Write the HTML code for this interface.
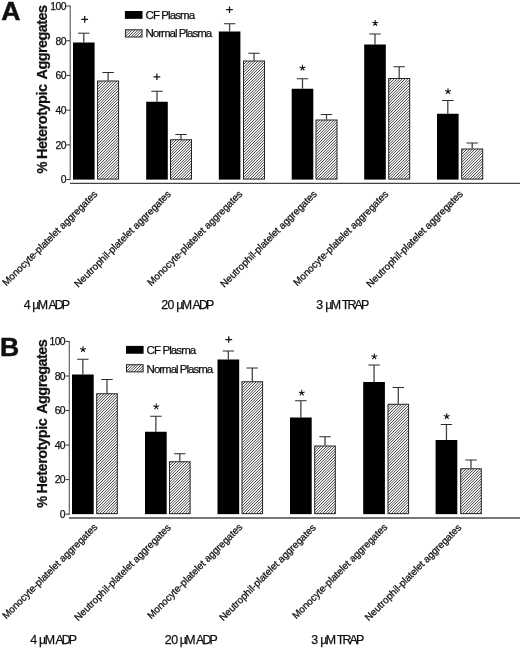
<!DOCTYPE html>
<html><head><meta charset="utf-8"><title>Figure</title>
<style>
html,body{margin:0;padding:0;background:#fff;}
body{width:520px;height:649px;overflow:hidden;font-family:"Liberation Sans",sans-serif;}
svg{display:block;font-family:"Liberation Sans",sans-serif;fill:#111;will-change:transform;-webkit-font-smoothing:antialiased;}
text{stroke:#111;stroke-width:0.25px;}
</style></head><body>
<svg width="520" height="649" viewBox="0 0 520 649">
<rect width="520" height="649" fill="#fff"/>
<!-- Panel A -->
<line x1="70.2" y1="5.55" x2="70.2" y2="180.1" stroke="#555" stroke-width="1.1"/>
<line x1="69.9" y1="183.4" x2="520" y2="183.4" stroke="#444" stroke-width="1.1"/>
<line x1="66.4" y1="179.60" x2="70.2" y2="179.60" stroke="#333" stroke-width="1"/>
<text x="65.9" y="183.45" text-anchor="end" font-size="10.4" letter-spacing="-0.6">0</text>
<line x1="66.4" y1="144.89" x2="70.2" y2="144.89" stroke="#333" stroke-width="1"/>
<text x="65.9" y="148.74" text-anchor="end" font-size="10.4" letter-spacing="-0.6">20</text>
<line x1="66.4" y1="110.18" x2="70.2" y2="110.18" stroke="#333" stroke-width="1"/>
<text x="65.9" y="114.03" text-anchor="end" font-size="10.4" letter-spacing="-0.6">40</text>
<line x1="66.4" y1="75.47" x2="70.2" y2="75.47" stroke="#333" stroke-width="1"/>
<text x="65.9" y="79.32" text-anchor="end" font-size="10.4" letter-spacing="-0.6">60</text>
<line x1="66.4" y1="40.76" x2="70.2" y2="40.76" stroke="#333" stroke-width="1"/>
<text x="65.9" y="44.61" text-anchor="end" font-size="10.4" letter-spacing="-0.6">80</text>
<line x1="66.4" y1="6.05" x2="70.2" y2="6.05" stroke="#333" stroke-width="1"/>
<text x="65.9" y="9.90" text-anchor="end" font-size="10.4" letter-spacing="-0.6">100</text>
<text transform="translate(47.1,173.40) rotate(-90)" font-size="14.5" font-weight="bold" letter-spacing="-0.2" textLength="11.7" lengthAdjust="spacingAndGlyphs">%</text>
<text transform="translate(47.1,159.10) rotate(-90)" font-size="14.5" font-weight="bold" letter-spacing="-0.45">Heterotypic</text>
<text transform="translate(47.1,79.40) rotate(-90)" font-size="14.5" font-weight="bold" letter-spacing="-0.58">Aggregates</text>
<text x="1.3" y="20.1" font-size="26.6" font-weight="bold" style="stroke-width:0.5px">A</text>
<rect x="124.9" y="11.0" width="17.6" height="7.85" fill="#000"/>
<rect x="125.4" y="29.8" width="16.6" height="7.2" fill="none" stroke="#222" stroke-width="1"/>
<text x="145.5" y="18.9" font-size="11.5" letter-spacing="-0.9">CF Plasma</text>
<text x="145.5" y="37.2" font-size="11.5" letter-spacing="-1.0">Normal Plasma</text>
<line x1="83.80" y1="33.2" x2="83.80" y2="42.5" stroke="#444" stroke-width="1.3"/>
<line x1="78.10" y1="33.2" x2="89.50" y2="33.2" stroke="#2a2a2a" stroke-width="1"/>
<rect x="73" y="42.5" width="21.6" height="137.10" fill="#000"/>
<line x1="108.10" y1="72.5" x2="108.10" y2="80.5" stroke="#444" stroke-width="1.3"/>
<line x1="102.40" y1="72.5" x2="113.80" y2="72.5" stroke="#2a2a2a" stroke-width="1"/>
<rect x="97.6" y="81.0" width="21" height="98.10" fill="none" stroke="#222" stroke-width="1"/>
<path d="M81.3 19.4H88.10000000000001M84.7 16.099999999999998V22.7" stroke="#111" stroke-width="1.25" fill="none"/>
<line x1="157.00" y1="91.25" x2="157.00" y2="101.75" stroke="#444" stroke-width="1.3"/>
<line x1="151.30" y1="91.25" x2="162.70" y2="91.25" stroke="#2a2a2a" stroke-width="1"/>
<rect x="146.2" y="101.75" width="21.6" height="77.85" fill="#000"/>
<line x1="181.00" y1="134.5" x2="181.00" y2="139.25" stroke="#444" stroke-width="1.3"/>
<line x1="175.30" y1="134.5" x2="186.70" y2="134.5" stroke="#2a2a2a" stroke-width="1"/>
<rect x="170.5" y="139.75" width="21" height="39.35" fill="none" stroke="#222" stroke-width="1"/>
<path d="M153.5 76.8H160.3M156.9 73.5V80.1" stroke="#111" stroke-width="1.25" fill="none"/>
<line x1="229.60" y1="23.75" x2="229.60" y2="31.5" stroke="#444" stroke-width="1.3"/>
<line x1="223.90" y1="23.75" x2="235.30" y2="23.75" stroke="#2a2a2a" stroke-width="1"/>
<rect x="218.8" y="31.5" width="21.6" height="148.10" fill="#000"/>
<line x1="254.00" y1="53.25" x2="254.00" y2="60.5" stroke="#444" stroke-width="1.3"/>
<line x1="248.30" y1="53.25" x2="259.70" y2="53.25" stroke="#2a2a2a" stroke-width="1"/>
<rect x="243.5" y="61.0" width="21" height="118.10" fill="none" stroke="#222" stroke-width="1"/>
<path d="M226.1 9.7H232.9M229.5 6.3999999999999995V13.0" stroke="#111" stroke-width="1.25" fill="none"/>
<line x1="302.50" y1="78.75" x2="302.50" y2="88.75" stroke="#444" stroke-width="1.3"/>
<line x1="296.80" y1="78.75" x2="308.20" y2="78.75" stroke="#2a2a2a" stroke-width="1"/>
<rect x="291.7" y="88.75" width="21.6" height="90.85" fill="#000"/>
<line x1="326.50" y1="114.5" x2="326.50" y2="119.5" stroke="#444" stroke-width="1.3"/>
<line x1="320.80" y1="114.5" x2="332.20" y2="114.5" stroke="#2a2a2a" stroke-width="1"/>
<rect x="316.0" y="120.0" width="21" height="59.10" fill="none" stroke="#222" stroke-width="1"/>
<path d="M302.50 67.90L302.50 64.80M302.50 67.90L305.45 66.94M302.50 67.90L304.32 70.41M302.50 67.90L300.68 70.41M302.50 67.90L299.55 66.94" stroke="#111" stroke-width="1.05" fill="none"/>
<line x1="375.00" y1="34" x2="375.00" y2="44.5" stroke="#444" stroke-width="1.3"/>
<line x1="369.30" y1="34" x2="380.70" y2="34" stroke="#2a2a2a" stroke-width="1"/>
<rect x="364.2" y="44.5" width="21.6" height="135.10" fill="#000"/>
<line x1="399.20" y1="66.75" x2="399.20" y2="78" stroke="#444" stroke-width="1.3"/>
<line x1="393.50" y1="66.75" x2="404.90" y2="66.75" stroke="#2a2a2a" stroke-width="1"/>
<rect x="388.7" y="78.5" width="21" height="100.60" fill="none" stroke="#222" stroke-width="1"/>
<path d="M375.20 23.10L375.20 20.00M375.20 23.10L378.15 22.14M375.20 23.10L377.02 25.61M375.20 23.10L373.38 25.61M375.20 23.10L372.25 22.14" stroke="#111" stroke-width="1.05" fill="none"/>
<line x1="447.80" y1="100.5" x2="447.80" y2="113.75" stroke="#444" stroke-width="1.3"/>
<line x1="442.10" y1="100.5" x2="453.50" y2="100.5" stroke="#2a2a2a" stroke-width="1"/>
<rect x="437" y="113.75" width="21.6" height="65.85" fill="#000"/>
<line x1="472.20" y1="143" x2="472.20" y2="148.5" stroke="#444" stroke-width="1.3"/>
<line x1="466.50" y1="143" x2="477.90" y2="143" stroke="#2a2a2a" stroke-width="1"/>
<rect x="461.7" y="149.0" width="21" height="30.10" fill="none" stroke="#222" stroke-width="1"/>
<path d="M448.00 91.40L448.00 88.30M448.00 91.40L450.95 90.44M448.00 91.40L449.82 93.91M448.00 91.40L446.18 93.91M448.00 91.40L445.05 90.44" stroke="#111" stroke-width="1.05" fill="none"/>
<text transform="translate(6.2,286.5) rotate(-45)" font-size="10" letter-spacing="-0.07" stroke="#111" stroke-width="0.2">Monocyte-platelet aggregates</text>
<text transform="translate(78.2,288) rotate(-45)" font-size="10" letter-spacing="-0.07" stroke="#111" stroke-width="0.2">Neutrophil-platelet aggregates</text>
<text transform="translate(151.2,286.5) rotate(-45)" font-size="10" letter-spacing="-0.07" stroke="#111" stroke-width="0.2">Monocyte-platelet aggregates</text>
<text transform="translate(224.2,288) rotate(-45)" font-size="10" letter-spacing="-0.07" stroke="#111" stroke-width="0.2">Neutrophil-platelet aggregates</text>
<text transform="translate(297.2,286.5) rotate(-45)" font-size="10" letter-spacing="-0.07" stroke="#111" stroke-width="0.2">Monocyte-platelet aggregates</text>
<text transform="translate(370.2,288) rotate(-45)" font-size="10" letter-spacing="-0.07" stroke="#111" stroke-width="0.2">Neutrophil-platelet aggregates</text>
<text x="23.70" y="309.3" font-size="12.4" letter-spacing="0">4</text>
<text x="32.30" y="309.3" font-size="12.4" letter-spacing="-1.6">µM</text>
<text x="48.40" y="309.3" font-size="12.4" letter-spacing="-1.9">ADP</text>
<text x="161.20" y="309.3" font-size="12.4" letter-spacing="-0.5">20</text>
<text x="176.30" y="309.3" font-size="12.4" letter-spacing="-1.6">µM</text>
<text x="192.60" y="309.3" font-size="12.4" letter-spacing="-1.9">ADP</text>
<text x="316.30" y="309.3" font-size="12.4" letter-spacing="0">3</text>
<text x="325.30" y="309.3" font-size="12.4" letter-spacing="-1.6">µM</text>
<text x="341.80" y="309.3" font-size="12.4" letter-spacing="-1.9">TRAP</text>
<!-- Panel B -->
<line x1="69.3" y1="341.0" x2="69.3" y2="514.65" stroke="#555" stroke-width="1.1"/>
<line x1="69.0" y1="518" x2="520" y2="518" stroke="#777" stroke-width="1.8"/>
<line x1="65.5" y1="514.15" x2="69.3" y2="514.15" stroke="#333" stroke-width="1"/>
<text x="65.0" y="518.00" text-anchor="end" font-size="10.4" letter-spacing="-0.6">0</text>
<line x1="65.5" y1="479.62" x2="69.3" y2="479.62" stroke="#333" stroke-width="1"/>
<text x="65.0" y="483.47" text-anchor="end" font-size="10.4" letter-spacing="-0.6">20</text>
<line x1="65.5" y1="445.09" x2="69.3" y2="445.09" stroke="#333" stroke-width="1"/>
<text x="65.0" y="448.94" text-anchor="end" font-size="10.4" letter-spacing="-0.6">40</text>
<line x1="65.5" y1="410.56" x2="69.3" y2="410.56" stroke="#333" stroke-width="1"/>
<text x="65.0" y="414.41" text-anchor="end" font-size="10.4" letter-spacing="-0.6">60</text>
<line x1="65.5" y1="376.03" x2="69.3" y2="376.03" stroke="#333" stroke-width="1"/>
<text x="65.0" y="379.88" text-anchor="end" font-size="10.4" letter-spacing="-0.6">80</text>
<line x1="65.5" y1="341.50" x2="69.3" y2="341.50" stroke="#333" stroke-width="1"/>
<text x="65.0" y="345.35" text-anchor="end" font-size="10.4" letter-spacing="-0.6">100</text>
<text transform="translate(46.6,507.80) rotate(-90)" font-size="14.5" font-weight="bold" letter-spacing="-0.2" textLength="11.7" lengthAdjust="spacingAndGlyphs">%</text>
<text transform="translate(46.6,493.50) rotate(-90)" font-size="14.5" font-weight="bold" letter-spacing="-0.45">Heterotypic</text>
<text transform="translate(46.6,413.80) rotate(-90)" font-size="14.5" font-weight="bold" letter-spacing="-0.58">Aggregates</text>
<text x="-0.1" y="356.2" font-size="26.6" font-weight="bold" style="stroke-width:0.5px">B</text>
<rect x="126.0" y="345.9" width="17.6" height="7.85" fill="#000"/>
<rect x="126.5" y="364.7" width="16.6" height="7.2" fill="none" stroke="#222" stroke-width="1"/>
<text x="146.6" y="354.0" font-size="11.5" letter-spacing="-0.9">CF Plasma</text>
<text x="146.6" y="372.6" font-size="11.5" letter-spacing="-1.0">Normal Plasma</text>
<line x1="82.85" y1="359.25" x2="82.85" y2="374.5" stroke="#444" stroke-width="1.3"/>
<line x1="77.15" y1="359.25" x2="88.55" y2="359.25" stroke="#2a2a2a" stroke-width="1"/>
<rect x="72" y="374.5" width="21.7" height="139.65" fill="#000"/>
<line x1="107.00" y1="379.5" x2="107.00" y2="393.25" stroke="#444" stroke-width="1.3"/>
<line x1="101.30" y1="379.5" x2="112.70" y2="379.5" stroke="#2a2a2a" stroke-width="1"/>
<rect x="96.7" y="393.75" width="20.6" height="119.90" fill="none" stroke="#222" stroke-width="1"/>
<path d="M83.00 349.40L83.00 346.30M83.00 349.40L85.95 348.44M83.00 349.40L84.82 351.91M83.00 349.40L81.18 351.91M83.00 349.40L80.05 348.44" stroke="#111" stroke-width="1.05" fill="none"/>
<line x1="155.85" y1="416.25" x2="155.85" y2="431.75" stroke="#444" stroke-width="1.3"/>
<line x1="150.15" y1="416.25" x2="161.55" y2="416.25" stroke="#2a2a2a" stroke-width="1"/>
<rect x="145" y="431.75" width="21.7" height="82.40" fill="#000"/>
<line x1="179.80" y1="453.75" x2="179.80" y2="461.25" stroke="#444" stroke-width="1.3"/>
<line x1="174.10" y1="453.75" x2="185.50" y2="453.75" stroke="#2a2a2a" stroke-width="1"/>
<rect x="169.5" y="461.75" width="20.6" height="51.90" fill="none" stroke="#222" stroke-width="1"/>
<path d="M156.25 406.70L156.25 403.60M156.25 406.70L159.20 405.74M156.25 406.70L158.07 409.21M156.25 406.70L154.43 409.21M156.25 406.70L153.30 405.74" stroke="#111" stroke-width="1.05" fill="none"/>
<line x1="228.35" y1="351" x2="228.35" y2="359.5" stroke="#444" stroke-width="1.3"/>
<line x1="222.65" y1="351" x2="234.05" y2="351" stroke="#2a2a2a" stroke-width="1"/>
<rect x="217.5" y="359.5" width="21.7" height="154.65" fill="#000"/>
<line x1="252.30" y1="368" x2="252.30" y2="381.25" stroke="#444" stroke-width="1.3"/>
<line x1="246.60" y1="368" x2="258.00" y2="368" stroke="#2a2a2a" stroke-width="1"/>
<rect x="242.0" y="381.75" width="20.6" height="131.90" fill="none" stroke="#222" stroke-width="1"/>
<path d="M225.35 339.5H232.15M228.75 336.2V342.8" stroke="#111" stroke-width="1.25" fill="none"/>
<line x1="300.85" y1="400.75" x2="300.85" y2="417.5" stroke="#444" stroke-width="1.3"/>
<line x1="295.15" y1="400.75" x2="306.55" y2="400.75" stroke="#2a2a2a" stroke-width="1"/>
<rect x="290" y="417.5" width="21.7" height="96.65" fill="#000"/>
<line x1="325.00" y1="436.75" x2="325.00" y2="445.5" stroke="#444" stroke-width="1.3"/>
<line x1="319.30" y1="436.75" x2="330.70" y2="436.75" stroke="#2a2a2a" stroke-width="1"/>
<rect x="314.7" y="446.0" width="20.6" height="67.65" fill="none" stroke="#222" stroke-width="1"/>
<path d="M301.75 392.90L301.75 389.80M301.75 392.90L304.70 391.94M301.75 392.90L303.57 395.41M301.75 392.90L299.93 395.41M301.75 392.90L298.80 391.94" stroke="#111" stroke-width="1.05" fill="none"/>
<line x1="374.05" y1="365" x2="374.05" y2="382" stroke="#444" stroke-width="1.3"/>
<line x1="368.35" y1="365" x2="379.75" y2="365" stroke="#2a2a2a" stroke-width="1"/>
<rect x="363.2" y="382" width="21.7" height="132.15" fill="#000"/>
<line x1="398.30" y1="387.5" x2="398.30" y2="403.75" stroke="#444" stroke-width="1.3"/>
<line x1="392.60" y1="387.5" x2="404.00" y2="387.5" stroke="#2a2a2a" stroke-width="1"/>
<rect x="388.0" y="404.25" width="20.6" height="109.40" fill="none" stroke="#222" stroke-width="1"/>
<path d="M374.25 356.60L374.25 353.50M374.25 356.60L377.20 355.64M374.25 356.60L376.07 359.11M374.25 356.60L372.43 359.11M374.25 356.60L371.30 355.64" stroke="#111" stroke-width="1.05" fill="none"/>
<line x1="446.45" y1="424.5" x2="446.45" y2="440" stroke="#444" stroke-width="1.3"/>
<line x1="440.75" y1="424.5" x2="452.15" y2="424.5" stroke="#2a2a2a" stroke-width="1"/>
<rect x="435.6" y="440" width="21.7" height="74.15" fill="#000"/>
<line x1="471.00" y1="460" x2="471.00" y2="468.25" stroke="#444" stroke-width="1.3"/>
<line x1="465.30" y1="460" x2="476.70" y2="460" stroke="#2a2a2a" stroke-width="1"/>
<rect x="460.7" y="468.75" width="20.6" height="44.90" fill="none" stroke="#222" stroke-width="1"/>
<path d="M446.75 416.40L446.75 413.30M446.75 416.40L449.70 415.44M446.75 416.40L448.57 418.91M446.75 416.40L444.93 418.91M446.75 416.40L443.80 415.44" stroke="#111" stroke-width="1.05" fill="none"/>
<text transform="translate(6.2,619.5) rotate(-45)" font-size="10" letter-spacing="-0.07" stroke="#111" stroke-width="0.2">Monocyte-platelet aggregates</text>
<text transform="translate(78.2,621.5) rotate(-45)" font-size="10" letter-spacing="-0.07" stroke="#111" stroke-width="0.2">Neutrophil-platelet aggregates</text>
<text transform="translate(151.2,619.5) rotate(-45)" font-size="10" letter-spacing="-0.07" stroke="#111" stroke-width="0.2">Monocyte-platelet aggregates</text>
<text transform="translate(223.2,621.5) rotate(-45)" font-size="10" letter-spacing="-0.07" stroke="#111" stroke-width="0.2">Neutrophil-platelet aggregates</text>
<text transform="translate(296.2,619.5) rotate(-45)" font-size="10" letter-spacing="-0.07" stroke="#111" stroke-width="0.2">Monocyte-platelet aggregates</text>
<text transform="translate(368.7,621.5) rotate(-45)" font-size="10" letter-spacing="-0.07" stroke="#111" stroke-width="0.2">Neutrophil-platelet aggregates</text>
<text x="30.30" y="643.5" font-size="12.4" letter-spacing="0">4</text>
<text x="39.10" y="643.5" font-size="12.4" letter-spacing="-1.6">µM</text>
<text x="55.40" y="643.5" font-size="12.4" letter-spacing="-1.9">ADP</text>
<text x="164.80" y="643.5" font-size="12.4" letter-spacing="-0.5">20</text>
<text x="179.70" y="643.5" font-size="12.4" letter-spacing="-1.6">µM</text>
<text x="196.10" y="643.5" font-size="12.4" letter-spacing="-1.9">ADP</text>
<text x="311.30" y="643.5" font-size="12.4" letter-spacing="0">3</text>
<text x="320.30" y="643.5" font-size="12.4" letter-spacing="-1.6">µM</text>
<text x="336.80" y="643.5" font-size="12.4" letter-spacing="-1.9">TRAP</text>
<clipPath id="hc"><rect x="125.40" y="29.80" width="16.60" height="7.20"/><rect x="97.60" y="81.00" width="21.00" height="98.10"/><rect x="170.50" y="139.75" width="21.00" height="39.35"/><rect x="243.50" y="61.00" width="21.00" height="118.10"/><rect x="316.00" y="120.00" width="21.00" height="59.10"/><rect x="388.70" y="78.50" width="21.00" height="100.60"/><rect x="461.70" y="149.00" width="21.00" height="30.10"/><rect x="126.50" y="364.70" width="16.60" height="7.20"/><rect x="96.70" y="393.75" width="20.60" height="119.90"/><rect x="169.50" y="461.75" width="20.60" height="51.90"/><rect x="242.00" y="381.75" width="20.60" height="131.90"/><rect x="314.70" y="446.00" width="20.60" height="67.65"/><rect x="388.00" y="404.25" width="20.60" height="109.40"/><rect x="460.70" y="468.75" width="20.60" height="44.90"/></clipPath><path clip-path="url(#hc)" d="M0 0.0L0.0 0M0 2.8L2.8 0M0 5.5L5.5 0M0 8.2L8.2 0M0 11.0L11.0 0M0 13.8L13.8 0M0 16.5L16.5 0M0 19.2L19.2 0M0 22.0L22.0 0M0 24.8L24.8 0M0 27.5L27.5 0M0 30.2L30.2 0M0 33.0L33.0 0M0 35.8L35.8 0M0 38.5L38.5 0M0 41.2L41.2 0M0 44.0L44.0 0M0 46.8L46.8 0M0 49.5L49.5 0M0 52.2L52.2 0M0 55.0L55.0 0M0 57.8L57.8 0M0 60.5L60.5 0M0 63.2L63.2 0M0 66.0L66.0 0M0 68.8L68.8 0M0 71.5L71.5 0M0 74.2L74.2 0M0 77.0L77.0 0M0 79.8L79.8 0M0 82.5L82.5 0M0 85.2L85.2 0M0 88.0L88.0 0M0 90.8L90.8 0M0 93.5L93.5 0M0 96.2L96.2 0M0 99.0L99.0 0M0 101.8L101.8 0M0 104.5L104.5 0M0 107.2L107.2 0M0 110.0L110.0 0M0 112.8L112.8 0M0 115.5L115.5 0M0 118.2L118.2 0M0 121.0L121.0 0M0 123.8L123.8 0M0 126.5L126.5 0M0 129.2L129.2 0M0 132.0L132.0 0M0 134.8L134.8 0M0 137.5L137.5 0M0 140.2L140.2 0M0 143.0L143.0 0M0 145.8L145.8 0M0 148.5L148.5 0M0 151.2L151.2 0M0 154.0L154.0 0M0 156.8L156.8 0M0 159.5L159.5 0M0 162.2L162.2 0M0 165.0L165.0 0M0 167.8L167.8 0M0 170.5L170.5 0M0 173.2L173.2 0M0 176.0L176.0 0M0 178.8L178.8 0M0 181.5L181.5 0M0 184.2L184.2 0M0 187.0L187.0 0M0 189.8L189.8 0M0 192.5L192.5 0M0 195.2L195.2 0M0 198.0L198.0 0M0 200.8L200.8 0M0 203.5L203.5 0M0 206.2L206.2 0M0 209.0L209.0 0M0 211.8L211.8 0M0 214.5L214.5 0M0 217.2L217.2 0M0 220.0L220.0 0M0 222.8L222.8 0M0 225.5L225.5 0M0 228.2L228.2 0M0 231.0L231.0 0M0 233.8L233.8 0M0 236.5L236.5 0M0 239.2L239.2 0M0 242.0L242.0 0M0 244.8L244.8 0M0 247.5L247.5 0M0 250.2L250.2 0M0 253.0L253.0 0M0 255.8L255.8 0M0 258.5L258.5 0M0 261.2L261.2 0M0 264.0L264.0 0M0 266.8L266.8 0M0 269.5L269.5 0M0 272.2L272.2 0M0 275.0L275.0 0M0 277.8L277.8 0M0 280.5L280.5 0M0 283.2L283.2 0M0 286.0L286.0 0M0 288.8L288.8 0M0 291.5L291.5 0M0 294.2L294.2 0M0 297.0L297.0 0M0 299.8L299.8 0M0 302.5L302.5 0M0 305.2L305.2 0M0 308.0L308.0 0M0 310.8L310.8 0M0 313.5L313.5 0M0 316.2L316.2 0M0 319.0L319.0 0M0 321.8L321.8 0M0 324.5L324.5 0M0 327.2L327.2 0M0 330.0L330.0 0M0 332.8L332.8 0M0 335.5L335.5 0M0 338.2L338.2 0M0 341.0L341.0 0M0 343.8L343.8 0M0 346.5L346.5 0M0 349.2L349.2 0M0 352.0L352.0 0M0 354.8L354.8 0M0 357.5L357.5 0M0 360.2L360.2 0M0 363.0L363.0 0M0 365.8L365.8 0M0 368.5L368.5 0M0 371.2L371.2 0M0 374.0L374.0 0M0 376.8L376.8 0M0 379.5L379.5 0M0 382.2L382.2 0M0 385.0L385.0 0M0 387.8L387.8 0M0 390.5L390.5 0M0 393.2L393.2 0M0 396.0L396.0 0M0 398.8L398.8 0M0 401.5L401.5 0M0 404.2L404.2 0M0 407.0L407.0 0M0 409.8L409.8 0M0 412.5L412.5 0M0 415.2L415.2 0M0 418.0L418.0 0M0 420.8L420.8 0M0 423.5L423.5 0M0 426.2L426.2 0M0 429.0L429.0 0M0 431.8L431.8 0M0 434.5L434.5 0M0 437.2L437.2 0M0 440.0L440.0 0M0 442.8L442.8 0M0 445.5L445.5 0M0 448.2L448.2 0M0 451.0L451.0 0M0 453.8L453.8 0M0 456.5L456.5 0M0 459.2L459.2 0M0 462.0L462.0 0M0 464.8L464.8 0M0 467.5L467.5 0M0 470.2L470.2 0M0 473.0L473.0 0M0 475.8L475.8 0M0 478.5L478.5 0M0 481.2L481.2 0M0 484.0L484.0 0M0 486.8L486.8 0M0 489.5L489.5 0M0 492.2L492.2 0M0 495.0L495.0 0M0 497.8L497.8 0M0 500.5L500.5 0M0 503.2L503.2 0M0 506.0L506.0 0M0 508.8L508.8 0M0 511.5L511.5 0M0 514.2L514.2 0M0 517.0L517.0 0M0 519.8L519.8 0M0 522.5L522.5 0M0 525.2L525.2 0M0 528.0L528.0 0M0 530.8L530.8 0M0 533.5L533.5 0M0 536.2L536.2 0M0 539.0L539.0 0M0 541.8L541.8 0M0 544.5L544.5 0M0 547.2L547.2 0M0 550.0L550.0 0M0 552.8L552.8 0M0 555.5L555.5 0M0 558.2L558.2 0M0 561.0L561.0 0M0 563.8L563.8 0M0 566.5L566.5 0M0 569.2L569.2 0M0 572.0L572.0 0M0 574.8L574.8 0M0 577.5L577.5 0M0 580.2L580.2 0M0 583.0L583.0 0M0 585.8L585.8 0M0 588.5L588.5 0M0 591.2L591.2 0M0 594.0L594.0 0M0 596.8L596.8 0M0 599.5L599.5 0M0 602.2L602.2 0M0 605.0L605.0 0M0 607.8L607.8 0M0 610.5L610.5 0M0 613.2L613.2 0M0 616.0L616.0 0M0 618.8L618.8 0M0 621.5L621.5 0M0 624.2L624.2 0M0 627.0L627.0 0M0 629.8L629.8 0M0 632.5L632.5 0M0 635.2L635.2 0M0 638.0L638.0 0M0 640.8L640.8 0M0 643.5L643.5 0M0 646.2L646.2 0M0 649.0L649.0 0M0 651.8L651.8 0M0 654.5L654.5 0M0 657.2L657.2 0M0 660.0L660.0 0M0 662.8L662.8 0M0 665.5L665.5 0M0 668.2L668.2 0M0 671.0L671.0 0M0 673.8L673.8 0M0 676.5L676.5 0M0 679.2L679.2 0M0 682.0L682.0 0M0 684.8L684.8 0M0 687.5L687.5 0M0 690.2L690.2 0M0 693.0L693.0 0M0 695.8L695.8 0M0 698.5L698.5 0M0 701.2L701.2 0M0 704.0L704.0 0M0 706.8L706.8 0M0 709.5L709.5 0M0 712.2L712.2 0M0 715.0L715.0 0M0 717.8L717.8 0M0 720.5L720.5 0M0 723.2L723.2 0M0 726.0L726.0 0M0 728.8L728.8 0M0 731.5L731.5 0M0 734.2L734.2 0M0 737.0L737.0 0M0 739.8L739.8 0M0 742.5L742.5 0M0 745.2L745.2 0M0 748.0L748.0 0M0 750.8L750.8 0M0 753.5L753.5 0M0 756.2L756.2 0M0 759.0L759.0 0M0 761.8L761.8 0M0 764.5L764.5 0M0 767.2L767.2 0M0 770.0L770.0 0M0 772.8L772.8 0M0 775.5L775.5 0M0 778.2L778.2 0M0 781.0L781.0 0M0 783.8L783.8 0M0 786.5L786.5 0M0 789.2L789.2 0M0 792.0L792.0 0M0 794.8L794.8 0M0 797.5L797.5 0M0 800.2L800.2 0M0 803.0L803.0 0M0 805.8L805.8 0M0 808.5L808.5 0M0 811.2L811.2 0M0 814.0L814.0 0M0 816.8L816.8 0M0 819.5L819.5 0M0 822.2L822.2 0M0 825.0L825.0 0M0 827.8L827.8 0M0 830.5L830.5 0M0 833.2L833.2 0M0 836.0L836.0 0M0 838.8L838.8 0M0 841.5L841.5 0M0 844.2L844.2 0M0 847.0L847.0 0M0 849.8L849.8 0M0 852.5L852.5 0M0 855.2L855.2 0M0 858.0L858.0 0M0 860.8L860.8 0M0 863.5L863.5 0M0 866.2L866.2 0M0 869.0L869.0 0M0 871.8L871.8 0M0 874.5L874.5 0M0 877.2L877.2 0M0 880.0L880.0 0M0 882.8L882.8 0M0 885.5L885.5 0M0 888.2L888.2 0M0 891.0L891.0 0M0 893.8L893.8 0M0 896.5L896.5 0M0 899.2L899.2 0M0 902.0L902.0 0M0 904.8L904.8 0M0 907.5L907.5 0M0 910.2L910.2 0M0 913.0L913.0 0M0 915.8L915.8 0M0 918.5L918.5 0M0 921.2L921.2 0M0 924.0L924.0 0M0 926.8L926.8 0M0 929.5L929.5 0M0 932.2L932.2 0M0 935.0L935.0 0M0 937.8L937.8 0M0 940.5L940.5 0M0 943.2L943.2 0M0 946.0L946.0 0M0 948.8L948.8 0M0 951.5L951.5 0M0 954.2L954.2 0M0 957.0L957.0 0M0 959.8L959.8 0M0 962.5L962.5 0M0 965.2L965.2 0M0 968.0L968.0 0M0 970.8L970.8 0M0 973.5L973.5 0M0 976.2L976.2 0M0 979.0L979.0 0M0 981.8L981.8 0M0 984.5L984.5 0M0 987.2L987.2 0M0 990.0L990.0 0M0 992.8L992.8 0M0 995.5L995.5 0M0 998.2L998.2 0M0 1001.0L1001.0 0M0 1003.8L1003.8 0M0 1006.5L1006.5 0M0 1009.2L1009.2 0M0 1012.0L1012.0 0M0 1014.8L1014.8 0M0 1017.5L1017.5 0M0 1020.2L1020.2 0M0 1023.0L1023.0 0M0 1025.8L1025.8 0M0 1028.5L1028.5 0M0 1031.2L1031.2 0M0 1034.0L1034.0 0M0 1036.8L1036.8 0M0 1039.5L1039.5 0M0 1042.2L1042.2 0M0 1045.0L1045.0 0M0 1047.8L1047.8 0M0 1050.5L1050.5 0M0 1053.2L1053.2 0M0 1056.0L1056.0 0M0 1058.8L1058.8 0M0 1061.5L1061.5 0M0 1064.2L1064.2 0M0 1067.0L1067.0 0M0 1069.8L1069.8 0M0 1072.5L1072.5 0M0 1075.2L1075.2 0M0 1078.0L1078.0 0M0 1080.8L1080.8 0M0 1083.5L1083.5 0M0 1086.2L1086.2 0M0 1089.0L1089.0 0M0 1091.8L1091.8 0M0 1094.5L1094.5 0M0 1097.2L1097.2 0M0 1100.0L1100.0 0M0 1102.8L1102.8 0M0 1105.5L1105.5 0M0 1108.2L1108.2 0M0 1111.0L1111.0 0M0 1113.8L1113.8 0M0 1116.5L1116.5 0M0 1119.2L1119.2 0M0 1122.0L1122.0 0M0 1124.8L1124.8 0M0 1127.5L1127.5 0M0 1130.2L1130.2 0M0 1133.0L1133.0 0M0 1135.8L1135.8 0M0 1138.5L1138.5 0M0 1141.2L1141.2 0M0 1144.0L1144.0 0M0 1146.8L1146.8 0M0 1149.5L1149.5 0M0 1152.2L1152.2 0M0 1155.0L1155.0 0M0 1157.8L1157.8 0M0 1160.5L1160.5 0M0 1163.2L1163.2 0M0 1166.0L1166.0 0M0 1168.8L1168.8 0" stroke="#2a2a2a" stroke-width="0.9" fill="none"/>
</svg>
</body></html>
